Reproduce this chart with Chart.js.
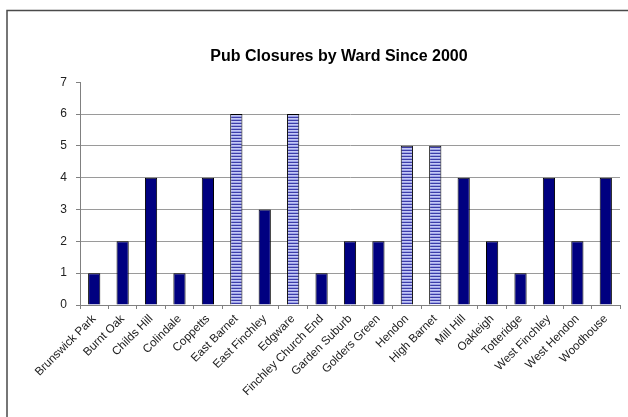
<!DOCTYPE html>
<html>
<head>
<meta charset="utf-8">
<script src="https://cdn.jsdelivr.net/npm/chart.js@4.4.1/dist/chart.umd.min.js"></script>
<style>
  html, body { margin: 0; padding: 0; background: #fff; }
  #wrap { position: relative; width: 628px; height: 417px; }
  canvas { display: block; }
</style>
</head>
<body>
<div id="wrap"><canvas id="c" width="628" height="417"></canvas></div>
<script>
// Wards of the borough, in axis order
const wards = [
  'Brunswick Park', 'Burnt Oak', 'Childs Hill', 'Colindale', 'Coppetts',
  'East Barnet', 'East Finchley', 'Edgware', 'Finchley Church End',
  'Garden Suburb', 'Golders Green', 'Hendon', 'High Barnet', 'Mill Hill',
  'Oakleigh', 'Totteridge', 'West Finchley', 'West Hendon', 'Woodhouse'
];
// Number of pubs closed in each ward since 2000
const closures = [1, 2, 4, 1, 4, 6, 3, 6, 1, 2, 2, 5, 5, 4, 2, 1, 4, 2, 4];
// Wards drawn with the hatched fill
const hatchedWards = ['East Barnet', 'Edgware', 'Hendon', 'High Barnet'];
const yTicks = [0, 1, 2, 3, 4, 5, 6, 7];
const titleText = 'Pub Closures by Ward Since 2000';

const FONT = "'Liberation Sans', Arial, sans-serif";

// Horizontal stripe fill for the hatched bars
function makeStripes() {
  const p = document.createElement('canvas');
  p.width = 4; p.height = 3;
  const g = p.getContext('2d');
  g.fillStyle = '#3c3ca8'; g.fillRect(0, 0, 4, 1);
  g.fillStyle = '#c4c8f4'; g.fillRect(0, 1, 4, 1);
  g.fillStyle = '#9ea4e8'; g.fillRect(0, 2, 4, 1);
  return document.getElementById('c').getContext('2d').createPattern(p, 'repeat');
}
const stripes = makeStripes();
const fills = wards.map(w => hatchedWards.includes(w) ? stripes : '#000080');

// Outer frame lines (top and left edge of the chart object)
const framePlugin = {
  id: 'frame',
  beforeDraw(chart) {
    const c = chart.ctx;
    c.save();
    c.fillStyle = '#fff';
    c.fillRect(0, 0, chart.width, chart.height);
    c.strokeStyle = '#4a4a4a';
    c.lineWidth = 1.5;
    c.beginPath();
    c.moveTo(7, chart.height);
    c.lineTo(7, 10.5);
    c.lineTo(chart.width, 10.5);
    c.stroke();
    c.restore();
  }
};

// Nudge the title a little to the right of the layout box centre
const titleShift = {
  id: 'titleShift',
  afterLayout(chart) {
    if (chart.titleBlock) {
      chart.titleBlock.left += 4;
      chart.titleBlock.right += 4;
    }
  }
};

new Chart(document.getElementById('c'), {
  type: 'bar',
  data: {
    labels: wards,
    datasets: [{
      data: closures,
      backgroundColor: fills,
      borderColor: '#000000',
      borderWidth: 1,
      barPercentage: 0.43,
      categoryPercentage: 1.0
    }]
  },
  options: {
    responsive: false,
    animation: false,
    layout: { padding: { left: 50, right: 8, top: 0, bottom: 0 } },
    plugins: {
      legend: { display: false },
      tooltip: { enabled: false },
      title: {
        display: true,
        text: titleText,
        color: '#000',
        font: { family: FONT, size: 16, weight: 'bold' },
        padding: { top: 47, bottom: 16 }
      }
    },
    scales: {
      x: {
        offset: true,
        grid: {
          display: true,
          offset: true,
          drawOnChartArea: false,
          drawTicks: true,
          tickLength: 4,
          color: '#808080'
        },
        border: { display: true, color: '#808080', width: 1 },
        ticks: {
          autoSkip: false,
          minRotation: 45,
          maxRotation: 45,
          padding: 3,
          color: '#222',
          font: { family: FONT, size: 11.7 }
        },
        afterFit(s) { s.height = 112; }
      },
      y: {
        min: 0,
        max: 7,
        afterBuildTicks(s) { s.ticks = yTicks.map(v => ({ value: v })); },
        grid: {
          color: ctx => (ctx.tick && (ctx.tick.value === 7 || ctx.tick.value === 0)) ? 'rgba(0,0,0,0)' : '#9a9a9a',
          tickColor: '#808080',
          tickLength: 4,
          lineWidth: 1
        },
        border: { display: true, color: '#808080', width: 1 },
        ticks: {
          padding: 9,
          color: '#222',
          font: { family: FONT, size: 12 }
        },
        afterFit(s) { s.width = 30; }
      }
    }
  },
  plugins: [framePlugin, titleShift]
});
</script>
</body>
</html>
